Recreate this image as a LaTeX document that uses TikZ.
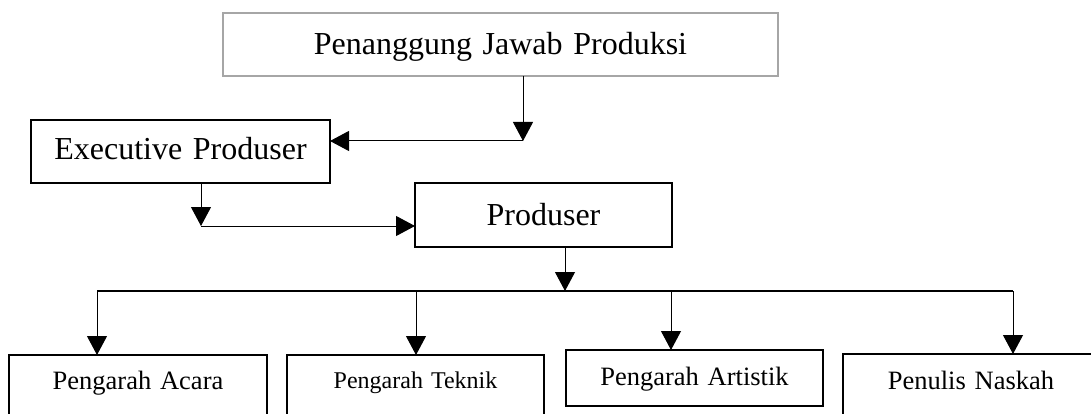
\documentclass[tikz,border=0pt]{standalone}
\usepackage{fontspec}
\setmainfont{Liberation Serif}
\usetikzlibrary{arrows.meta}
\begin{document}
\begin{tikzpicture}[x=1pt,y=1pt,
  box/.style={draw=black,line width=2pt,inner sep=0pt,outer sep=0pt,align=center,fill=white},
  bigtext/.style={font=\fontsize{32}{38}\selectfont},
  smalltext/.style={font=\fontsize{26.5}{32}\selectfont},
  bottombox/.style={box,line width=2.6pt,smalltext},
  arr/.style={line width=1pt,-{Triangle[width=20pt,length=19pt]}},
  conn/.style={line width=1pt}]
\clip (0,0) rectangle (1091,-414);
\fill[white] (0,0) rectangle (1091,-414);
% boxes (anchor north west at left/top edges)
\node[box,draw={rgb,255:red,166;green,166;blue,166},line width=2.5pt,bigtext,anchor=north west,text width=555pt,text height=42pt,text depth=21pt] (pj) at (223,-13) {Penanggung Jawab Produksi};
\node[box,bigtext,anchor=north west,text width=299pt,text height=40pt,text depth=23pt] (ep) at (31,-120) {Executive Produser};
\node[box,bigtext,anchor=north west,text width=257pt,text height=42pt,text depth=22pt] (pr) at (415,-183) {Produser};
\node[bottombox,anchor=north west,text width=258pt,text height=34pt,text depth=41pt] (b1) at (9,-355) {Pengarah Acara};
\node[bottombox,font=\fontsize{24}{29}\selectfont,anchor=north west,text width=257pt,text height=33pt,text depth=42pt] (b2) at (287,-355) {Pengarah Teknik};
\node[bottombox,anchor=north west,text width=257pt,text height=35pt,text depth=21pt] (b3) at (566,-350) {Pengarah Artistik};
\node[bottombox,anchor=north west,text width=256pt,text height=35pt,text depth=41pt] (b4) at (843,-354) {Penulis Naskah};
% connector coordinates
\coordinate (c1) at (523,-141);
\coordinate (c2) at (201,-226);
\coordinate (c3) at (565,-291);
\coordinate (h1) at (97,-291);
\coordinate (h2) at (416,-291);
\coordinate (h3) at (671,-291);
\coordinate (h4) at (1013,-291);
% connectors
\draw[arr] (pj.south -| c1) -- (c1);
\draw[arr] (c1) -- (ep.east |- c1);
\draw[arr] (ep.south -| c2) -- (c2);
\draw[arr] (c2) -- (pr.west |- c2);
\draw[arr] (pr.south -| c3) -- (c3);
\draw[conn,line width=1.3pt] (h1) -- (h4);
\draw[arr] (h1) -- (b1.north -| h1);
\draw[arr] (h2) -- (b2.north -| h2);
\draw[arr] (h3) -- (b3.north -| h3);
\draw[arr] (h4) -- (b4.north -| h4);
\end{tikzpicture}
\end{document}
